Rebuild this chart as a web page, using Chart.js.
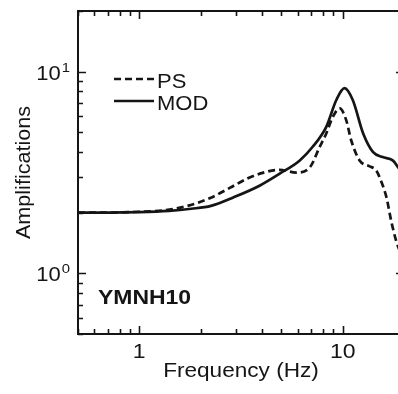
<!DOCTYPE html>
<html>
<head>
<meta charset="utf-8">
<script src="https://cdn.jsdelivr.net/npm/chart.js@4.4.1/dist/chart.umd.min.js"></script>
<style>
  html, body { margin: 0; padding: 0; background: #fff; overflow: hidden; }
  #wrap { width: 398px; height: 394px; overflow: hidden; }
</style>
</head>
<body>
<div id="wrap"><canvas id="amp" width="406" height="394"></canvas></div>
<script>
// values (frequency in Hz, amplification)
const modFreq = [0.5, 0.7, 1.0, 1.4, 1.8, 2.25, 2.9, 3.9, 4.9, 6.15, 7.1, 8.3, 9.3, 10.2, 11.2, 12.6, 14.1, 15.7, 17.6, 18.7, 20];
const modAmp  = [2.0, 2.0, 2.01, 2.04, 2.09, 2.16, 2.38, 2.72, 3.12, 3.63, 4.23, 5.33, 7.24, 8.29, 7.24, 4.94, 3.99, 3.77, 3.63, 3.36, 3.05];

const psFreq = [0.5, 0.7, 1.0, 1.3, 1.7, 2.25, 2.8, 3.4, 4.0, 4.9, 5.9, 6.9, 7.7, 8.3, 8.95, 9.66, 10.4, 11.0, 12.1, 13.5, 14.6, 15.4, 16.4, 17.3, 18.3, 20];
const psAmp  = [2.0, 2.0, 2.02, 2.05, 2.15, 2.37, 2.66, 2.95, 3.14, 3.26, 3.16, 3.36, 4.23, 4.94, 5.98, 6.58, 5.75, 4.57, 3.63, 3.4, 3.24, 2.88, 2.38, 1.82, 1.45, 1.15];

const xLabels = [1, 10];
const yLabels = [1, 10];
const stationName = 'YMNH10';

const toPoints = (xs, ys) => xs.map((x, i) => ({ x: x, y: ys[i] }));

// stretched text, the figure's lettering is a bit wider than plain Arial
function text(ctx, str, x, y, font, align, sx) {
  ctx.save();
  ctx.font = font;
  ctx.textBaseline = 'alphabetic';
  ctx.textAlign = 'left';
  const w = ctx.measureText(str).width * sx;
  let left = x;
  if (align === 'center') left = x - w / 2;
  if (align === 'right') left = x - w;
  ctx.translate(left, y);
  ctx.scale(sx, 1);
  ctx.fillText(str, 0, 0);
  ctx.restore();
  return w;
}

function logTicks(min, max) {
  const out = [];
  for (const d of [0.1, 1, 10]) {
    for (let k = 1; k <= 9; k++) {
      const v = +(k * d).toFixed(3);
      if (v >= min - 1e-9 && v <= max + 1e-9) out.push({ v: v, major: k === 1 });
    }
  }
  return out;
}

const framePlugin = {
  id: 'frame',
  afterDatasetsDraw(chart) {
    const ctx = chart.ctx;
    const a = chart.chartArea;
    const xs = chart.scales.x, ys = chart.scales.y;
    const FONT = '20px "Liberation Sans", Arial, sans-serif';
    const SUP = '13.5px "Liberation Sans", Arial, sans-serif';

    ctx.save();
    ctx.strokeStyle = '#151515';
    ctx.fillStyle = '#151515';
    ctx.lineWidth = 2;
    ctx.strokeRect(a.left, a.top, a.right - a.left, a.bottom - a.top);

    // inward ticks on all four sides
    ctx.lineWidth = 1.6;
    ctx.beginPath();
    logTicks(xs.min, xs.max).forEach(t => {
      const p = Math.round(xs.getPixelForValue(t.v)) + 0.5;
      const len = t.major ? 8 : 5;
      ctx.moveTo(p, a.bottom); ctx.lineTo(p, a.bottom - len);
      ctx.moveTo(p, a.top); ctx.lineTo(p, a.top + len);
    });
    logTicks(ys.min, ys.max).forEach(t => {
      const p = Math.round(ys.getPixelForValue(t.v)) + 0.5;
      const len = t.major ? 8 : 5;
      ctx.moveTo(a.left, p); ctx.lineTo(a.left + len, p);
      ctx.moveTo(a.right, p); ctx.lineTo(a.right - len, p);
    });
    ctx.stroke();

    // tick labels
    xLabels.forEach(v => {
      text(ctx, String(v), xs.getPixelForValue(v), a.bottom + 24, FONT, 'center', 1.15);
    });
    yLabels.forEach(v => {
      const p = ys.getPixelForValue(v);
      const exp = String(Math.round(Math.log10(v)));
      ctx.font = SUP;
      const ew = ctx.measureText(exp).width * 1.1;
      const right = 70 - ew;
      text(ctx, '10', right - 1, p + 8, FONT, 'right', 1.1);
      text(ctx, exp, right, p, SUP, 'left', 1.1);
    });

    // axis titles
    text(ctx, 'Frequency (Hz)', (a.left + a.right) / 2, a.bottom + 43, FONT, 'center', 1.13);
    ctx.save();
    ctx.translate(30, (a.top + a.bottom) / 2);
    ctx.rotate(-Math.PI / 2);
    text(ctx, 'Amplifications', 0, 0, FONT, 'center', 1.08);
    ctx.restore();

    // legend, styles taken from the datasets
    chart.data.datasets.forEach((ds, i) => {
      const y = 79 + i * 22;
      ctx.save();
      ctx.strokeStyle = ds.borderColor;
      ctx.lineWidth = ds.borderWidth;
      ctx.setLineDash(ds.borderDash || []);
      ctx.beginPath();
      ctx.moveTo(114, y);
      ctx.lineTo(154, y);
      ctx.stroke();
      ctx.restore();
      text(ctx, ds.label, 157, y + 9, FONT, 'left', 1.1);
    });

    text(ctx, stationName, 98, 304, 'bold 20.5px "Liberation Sans", Arial, sans-serif', 'left', 1.12);
    ctx.restore();
  }
};

new Chart(document.getElementById('amp'), {
  type: 'line',
  data: {
    datasets: [
      {
        label: 'PS',
        data: toPoints(psFreq, psAmp),
        borderColor: '#151515',
        borderWidth: 2.7,
        borderDash: [7, 4],
        pointRadius: 0,
        cubicInterpolationMode: 'monotone',
        fill: false
      },
      {
        label: 'MOD',
        data: toPoints(modFreq, modAmp),
        borderColor: '#151515',
        borderWidth: 2.7,
        pointRadius: 0,
        cubicInterpolationMode: 'monotone',
        fill: false
      }
    ]
  },
  options: {
    responsive: false,
    animation: false,
    events: [],
    layout: { padding: { left: 78, top: 11, right: 2, bottom: 60 } },
    plugins: { legend: { display: false }, tooltip: { enabled: false } },
    scales: {
      x: { type: 'logarithmic', min: 0.5, max: 20, display: false },
      y: { type: 'logarithmic', min: 0.5, max: 20, display: false }
    }
  },
  plugins: [framePlugin]
});
</script>
</body>
</html>
